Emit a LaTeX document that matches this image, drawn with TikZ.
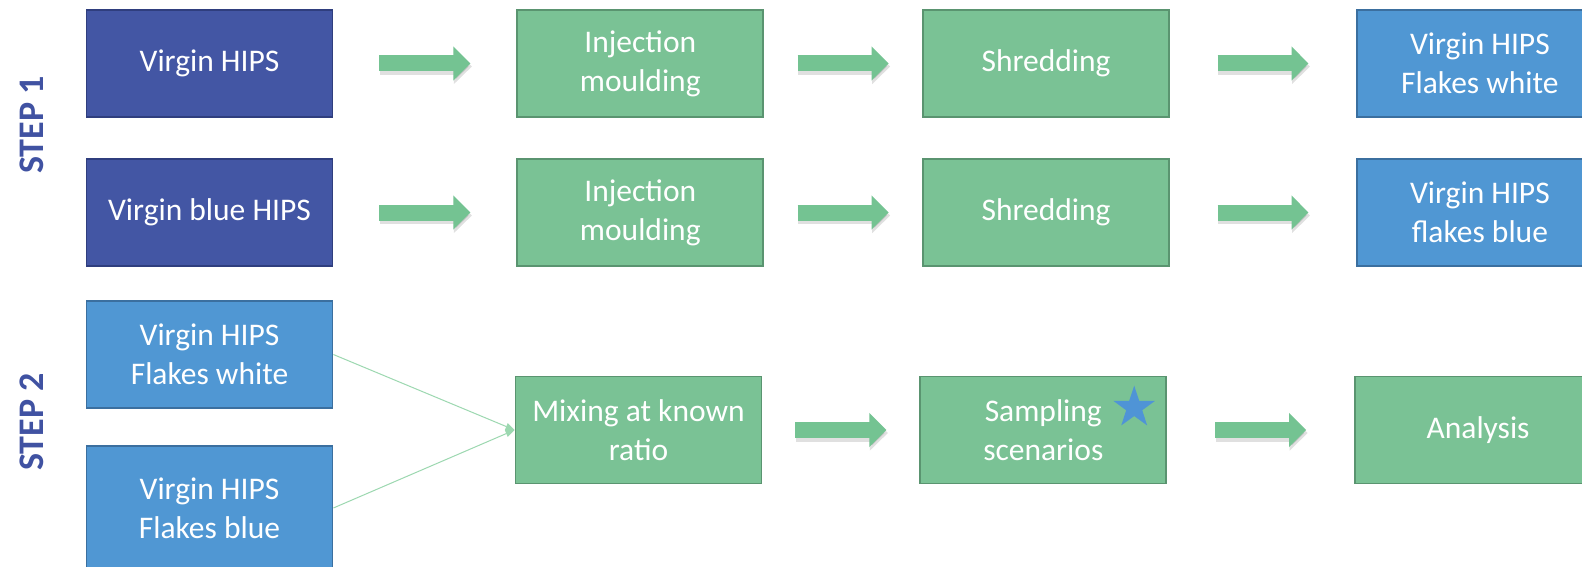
\documentclass[tikz,border=0pt]{standalone}
\usepackage{fontspec}
\setmainfont{Carlito}
\usetikzlibrary{arrows.meta,calc,positioning,shapes.geometric}

\definecolor{rawfill}{HTML}{4356A4}
\definecolor{rawline}{HTML}{2F3E7E}
\definecolor{procfill}{HTML}{7AC295}
\definecolor{procline}{HTML}{5A9470}
\definecolor{flakefill}{HTML}{5097D3}
\definecolor{flakeline}{HTML}{3B6F9F}
\definecolor{steptext}{HTML}{4052A2}
\definecolor{arrowfill}{HTML}{74C392}
\definecolor{feedline}{HTML}{9CD8B0}
\definecolor{starblue}{HTML}{4F94D6}

\begin{document}
\begin{tikzpicture}[x=1pt,y=-1pt,
  box/.style={rectangle,draw,line width=1.8pt,minimum width=246pt,minimum height=107pt,
    inner sep=0pt,text=white,align=center,font=\fontsize{31.5}{39}\selectfont},
  rawbox/.style={box,fill=rawfill,draw=rawline},
  procbox/.style={box,fill=procfill,draw=procline},
  flakebox/.style={box,fill=flakefill,draw=flakeline},
  steplabel/.style={rotate=90,text=steptext,font=\fontsize{36}{36}\selectfont\bfseries},
  blockarrow/.style={line width=16pt,draw=arrowfill,-{Triangle[length=17pt,width=33pt]}},
  arrowshadow/.style={line width=17pt,draw=black,opacity=0.12,-{Triangle[length=18pt,width=34pt]}},
  feed/.style={draw=feedline,line width=1pt,-{Triangle[length=9pt,width=7pt]}}]
  \useasboundingbox (0,0) rectangle (1582,567);
  \fill[white] (0,0) rectangle (1582,567);
  \clip (0,0) rectangle (1582,567);

  % step 1
  \node[steplabel] (s1) at (32,125) {STEP 1};
  \node[rawbox] (vh) at (209.5,63.5) {Virgin HIPS};
  \node[procbox, right=183pt of vh] (inj1) {Injection\\moulding};
  \node[procbox, right=158pt of inj1] (shr1) {Shredding};
  \node[flakebox, right=186pt of shr1] (fw1) {Virgin HIPS\\Flakes white};

  \node[rawbox] (vbh) at (209.5,212.5) {Virgin blue HIPS};
  \node[procbox, right=183pt of vbh] (inj2) {Injection\\moulding};
  \node[procbox, right=158pt of inj2] (shr2) {Shredding};
  \node[flakebox, right=186pt of shr2] (fb1) {Virgin HIPS\\flakes blue};

  % step 2
  \node[steplabel] (s2) at (32,422) {STEP 2};
  \node[flakebox] (fw2) at (209.5,354.5) {Virgin HIPS\\Flakes white};
  \node[flakebox, minimum height=124pt] (fb2) at (209.5,508) {Virgin HIPS\\Flakes blue};
  \node[procbox] (mix) at (638.5,430) {Mixing at known\\ratio};
  \node[procbox, right=157pt of mix] (samp) {Sampling\\scenarios};
  \node[procbox, right=187pt of samp] (ana) {Analysis};
  \node[star, star points=5, star point ratio=2.6, minimum size=44pt, inner sep=0pt,
    fill=starblue] (st) at ($(samp.north east)+(-33,32)$) {};

  % block arrows
  \foreach \a/\b in {vh/inj1,inj1/shr1,shr1/fw1,vbh/inj2,inj2/shr2,shr2/fb1,mix/samp,samp/ana}{
    \coordinate (m) at ($(\a.east)!0.5!(\b.west)$);
    \draw[arrowshadow] ($(m)+(-45,3)$) -- ($(m)+(47,3)$);
    \draw[blockarrow] ($(m)+(-45.5,0)$) -- ($(m)+(45.5,0)$);
  }

  \draw[feed] (fw2.east) -- (mix.west);
  \draw[feed] (fb2.east) -- (mix.west);
\end{tikzpicture}
\end{document}
